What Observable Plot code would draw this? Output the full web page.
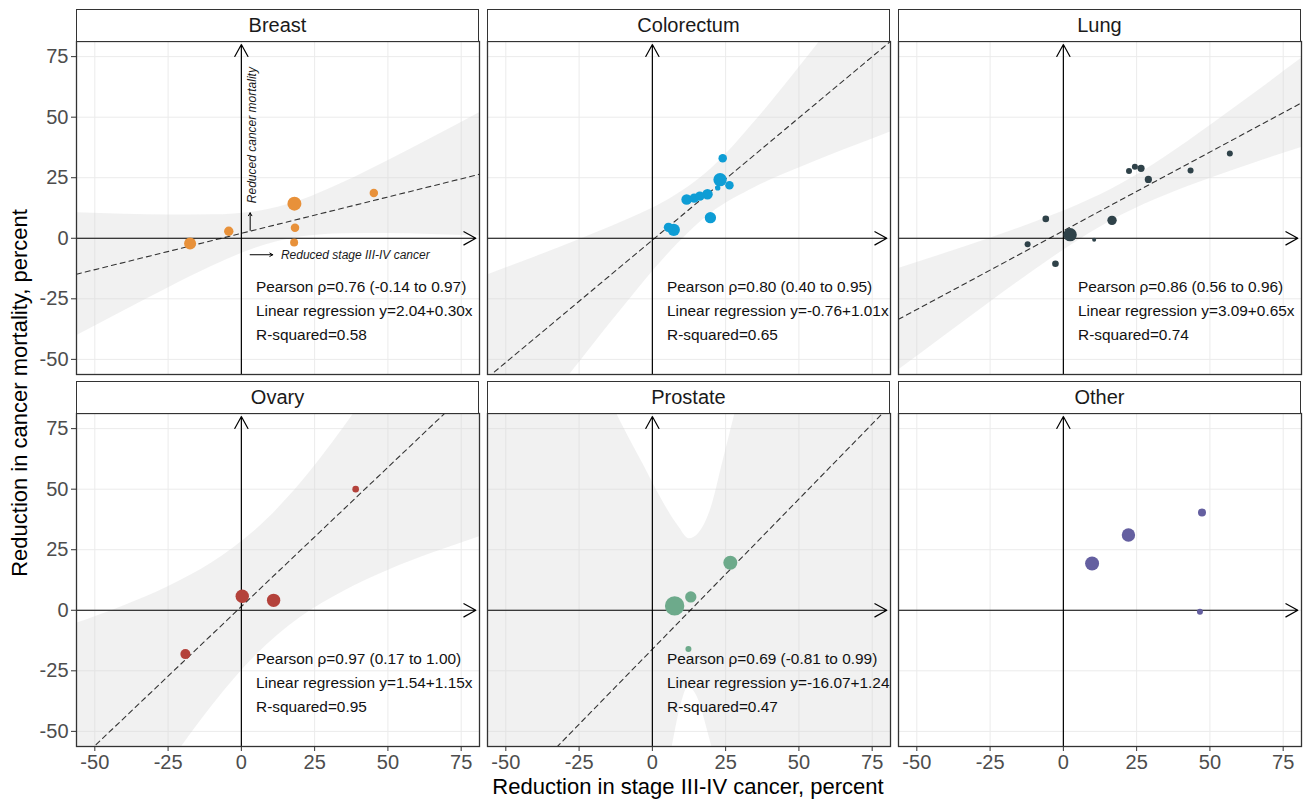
<!DOCTYPE html>
<html><head><meta charset="utf-8">
<script src="https://cdn.jsdelivr.net/npm/d3@7"></script>
<script src="https://cdn.jsdelivr.net/npm/@observablehq/plot@0.6"></script>
<style>
body{margin:0;background:#fff;}
#chart{position:relative;width:1309px;height:799px;font-family:"Liberation Sans",Arial,sans-serif;background:#fff;}
#chart svg{overflow:visible;position:absolute;}
.strip{position:absolute;box-sizing:border-box;border:1.3px solid #333;background:#fff;text-align:center;font-size:20px;color:#1a1a1a;line-height:30px;}
.title{position:absolute;font-size:22px;color:#000;white-space:nowrap;}
</style></head><body><div id="chart"></div>
<script>
// ---- data ----
const cancers = ["Breast", "Colorectum", "Lung", "Ovary", "Prostate", "Other"];
const colors = ["#E8913A", "#0E9DD5", "#2F4249", "#B4423B", "#6DAA8B", "#645FA0"];
const ticks = [-50, -25, 0, 25, 50, 75];

const breastX = [-17.5, -4.3, 18.1, 18.3, 18.0, 45.2];
const breastY = [-2.2, 2.9, 14.3, 4.3, -1.7, 18.7];
const breastN = [36, 22, 49, 18, 16, 18];

const colorectumX = [24.0, 23.1, 22.3, 26.3, 11.7, 14.3, 16.2, 18.8, 19.8, 5.5, 7.3];
const colorectumY = [33.0, 24.2, 20.8, 21.9, 16.0, 16.6, 17.4, 18.2, 8.5, 4.5, 3.5];
const colorectumN = [18, 45, 7, 18, 28, 22, 22, 28, 32, 22, 38];

const lungX = [56.8, 43.4, 22.4, 24.4, 26.5, 29.0, 16.6, -6.0, -12.2, -2.7, 2.3, 10.5];
const lungY = [35.0, 28.0, 27.8, 29.5, 28.9, 24.3, 7.4, 8.0, -2.5, -10.5, 1.5, -0.6];
const lungN = [9, 9, 9, 9, 13, 13, 22, 11, 9, 11, 45, 4];

const ovaryX = [39.0, 0.3, 11.0, -19.1];
const ovaryY = [50.0, 5.8, 4.1, -18.1];
const ovaryN = [11, 45, 45, 25];

const prostateX = [26.6, 13.1, 7.6, 12.3];
const prostateY = [19.6, 5.5, 1.8, -16.0];
const prostateN = [49, 32, 94, 9];

const otherX = [47.3, 22.2, 9.8, 46.6];
const otherY = [40.4, 31.1, 19.3, -0.6];
const otherN = [16, 45, 49, 9];

// regression fits printed on the chart
const intercepts = [2.04, -0.76, 3.09, 1.54, -16.07, null];
const slopes = [0.30, 1.01, 0.65, 1.15, 1.24, null];

// confidence band edges
const bandX = [-56.25, -40, -25, -10, 5, 20, 35, 50, 65, 81.25];
const breastLo = [-40.2, -29.9, -20.5, -11.6, -4.0, 0.5, 1.9, 2.0, 1.6, 1.0];
const breastHi = [10.5, 9.9, 9.6, 9.7, 11.0, 15.5, 23.1, 32.0, 41.4, 51.8];
const colorectumLo = [-99.9, -74.6, -51.4, -28.6, -7.0, 10.3, 21.0, 29.0, 36.3, 43.9];
const colorectumHi = [-15.2, -7.7, -0.6, 6.9, 15.6, 28.6, 48.2, 70.4, 93.5, 118.7];
const lungLo = [-54.4, -39.8, -26.4, -13.3, -1.0, 9.6, 17.8, 24.7, 31.0, 37.5];
const lungHi = [-12.5, -6.1, 0.0, 6.5, 13.7, 22.6, 33.8, 46.5, 59.7, 74.3];
const ovaryLo = [-120.9, -90.8, -64.2, -39.5, -18.6, -3.1, 7.9, 16.4, 23.5, 30.4];
const ovaryHi = [-5.4, 1.9, 9.7, 19.6, 33.2, 52.1, 75.6, 101.7, 129.1, 159.6];
const prostateLoX = [-56.25, -20, 0, 5, 7.2, 10, 12.3, 15, 19.7, 25, 40, 81.25];
const prostateLo = [-400, -180, -100, -68, -53.7, -38, -31.7, -35, -53.7, -80, -150, -330];
const prostateHiX = [-56.25, -30, -12.2, -3, 4, 9, 12.6, 16, 20, 24, 28.2, 81.25];
const prostateHi = [250, 135, 81.3, 60, 44, 34.5, 29.5, 32, 42, 61, 81.3, 290];

const statLines = [
  ["Pearson ρ=0.76 (-0.14 to 0.97)", "Linear regression y=2.04+0.30x", "R-squared=0.58"],
  ["Pearson ρ=0.80 (0.40 to 0.95)", "Linear regression y=-0.76+1.01x", "R-squared=0.65"],
  ["Pearson ρ=0.86 (0.56 to 0.96)", "Linear regression y=3.09+0.65x", "R-squared=0.74"],
  ["Pearson ρ=0.97 (0.17 to 1.00)", "Linear regression y=1.54+1.15x", "R-squared=0.95"],
  ["Pearson ρ=0.69 (-0.81 to 0.99)", "Linear regression y=-16.07+1.24x", "R-squared=0.47"],
  null
];
const statX = 5;
const statY = [-20, -30, -40];

// annotation in the Breast panel
const annotArrows = [
  {x1: 3, y1: 3.3, x2: 3, y2: 10.5},
  {x1: 3, y1: -6.8, x2: 10.7, y2: -6.8}
];
const annotTexts = [
  {x: 3.8, y: 14.5, t: "Reduced cancer mortality", rot: -90},
  {x: 13.5, y: -6.8, t: "Reduced stage III-IV cancer", rot: 0}
];

const domain = [-56.25, 81.25];
const arrowEnd = 80;

const pointsX = [breastX, colorectumX, lungX, ovaryX, prostateX, otherX];
const pointsY = [breastY, colorectumY, lungY, ovaryY, prostateY, otherY];
const pointsN = [breastN, colorectumN, lungN, ovaryN, prostateN, otherN];
const bands = [
  {lx: bandX, lo: breastLo, hx: bandX, hi: breastHi},
  {lx: bandX, lo: colorectumLo, hx: bandX, hi: colorectumHi},
  {lx: bandX, lo: lungLo, hx: bandX, hi: lungHi},
  {lx: bandX, lo: ovaryLo, hx: bandX, hi: ovaryHi},
  {lx: prostateLoX, lo: prostateLo, hx: prostateHiX, hi: prostateHi},
  null
];

// ---- layout ----
const colLeft = [76, 487, 898];
const rowTop = [41, 413];
const W = 403, H = 333, stripH = 32;
const chart = document.getElementById("chart");
const fmt = d => String(d);

cancers.forEach((name, i) => {
  const col = i % 3, row = Math.floor(i / 3);
  const ml = col === 0 ? 76 : 0;
  const mb = row === 1 ? 45 : 0;
  const pts = pointsX[i].map((x, j) => ({x, y: pointsY[i][j], n: pointsN[i][j]}));
  const marks = [
    Plot.gridX(ticks, {stroke: "#ebebeb", strokeOpacity: 1, strokeWidth: 1}),
    Plot.gridY(ticks, {stroke: "#ebebeb", strokeOpacity: 1, strokeWidth: 1})
  ];
  const b = bands[i];
  if (b) {
    const rows = b.lo.map((v, j) => ({lx: b.lx[j], lo: v, hx: b.hx[j], hi: b.hi[j]}));
    marks.push(Plot.area(rows, {x1: "lx", y1: "lo", x2: "hx", y2: "hi", fill: "#d6d6d6", fillOpacity: 0.33, curve: "monotone-x", clip: true}));
  }
  if (intercepts[i] != null) {
    const fit = domain.map(x => ({x, y: intercepts[i] + slopes[i] * x}));
    marks.push(Plot.line(fit, {x: "x", y: "y", stroke: "#333", strokeWidth: 1.1, strokeDasharray: "5,4", clip: true}));
  }
  marks.push(Plot.arrow([
    {x1: 0, y1: domain[0], x2: 0, y2: arrowEnd},
    {x1: domain[0], y1: 0, x2: arrowEnd, y2: 0}
  ], {x1: "x1", y1: "y1", x2: "x2", y2: "y2", stroke: "#000", strokeWidth: 1.2, headLength: 17, headAngle: 58}));
  if (i === 0) {
    marks.push(Plot.arrow(annotArrows, {x1: "x1", y1: "y1", x2: "x2", y2: "y2", stroke: "#000", strokeWidth: 1, headLength: 5, headAngle: 60}));
    marks.push(Plot.text(annotTexts, {x: "x", y: "y", text: "t", rotate: "rot", textAnchor: "start", lineAnchor: "middle", fontStyle: "italic", fontSize: 12, fill: "#1a1a1a"}));
  }
  marks.push(Plot.dot(pts, {x: "x", y: "y", r: "n", fill: colors[i], stroke: "none"}));
  if (statLines[i]) {
    const st = statLines[i].map((t, j) => ({t, y: statY[j]}));
    marks.push(Plot.text(st, {x: statX, y: "y", text: "t", textAnchor: "start", fontSize: 15.4, fill: "#111", clip: true}));
  }
  marks.push(Plot.frame({stroke: "#333", strokeWidth: 1.3}));
  if (col === 0) marks.push(Plot.axisY(ticks, {tickSize: 5, tickPadding: 3, fontSize: 20, tickFormat: fmt, stroke: "#333", fill: "#4d4d4d", label: null}));
  if (row === 1) marks.push(Plot.axisX(ticks, {tickSize: 5, tickPadding: 3, fontSize: 20, tickFormat: fmt, stroke: "#333", fill: "#4d4d4d", label: null}));

  const svg = Plot.plot({
    width: ml + W, height: H + mb,
    marginLeft: ml, marginRight: 0, marginTop: 0, marginBottom: mb,
    x: row === 1 ? {domain} : {domain, axis: null},
    y: col === 0 ? {domain} : {domain, axis: null},
    r: {type: "sqrt", domain: [0, 100], range: [0, 10]},
    style: {fontFamily: "'Liberation Sans', Arial, sans-serif", background: "transparent", overflow: "visible"},
    marks
  });
  svg.style.left = (colLeft[col] - ml) + "px";
  svg.style.top = rowTop[row] + "px";
  chart.appendChild(svg);

  const strip = document.createElement("div");
  strip.className = "strip";
  strip.style.left = colLeft[col] + "px";
  strip.style.top = (rowTop[row] - stripH) + "px";
  strip.style.width = W + "px";
  strip.style.height = (stripH + 1) + "px";
  strip.textContent = name;
  chart.appendChild(strip);
});

const xt = document.createElement("div");
xt.className = "title";
xt.textContent = "Reduction in stage III-IV cancer, percent";
xt.style.left = "688px"; xt.style.top = "787px";
xt.style.transform = "translate(-50%,-50%)";
chart.appendChild(xt);

const yt = document.createElement("div");
yt.className = "title";
yt.textContent = "Reduction in cancer mortality, percent";
yt.style.left = "20px"; yt.style.top = "393px";
yt.style.transform = "translate(-50%,-50%) rotate(-90deg)";
chart.appendChild(yt);
</script></body></html>
